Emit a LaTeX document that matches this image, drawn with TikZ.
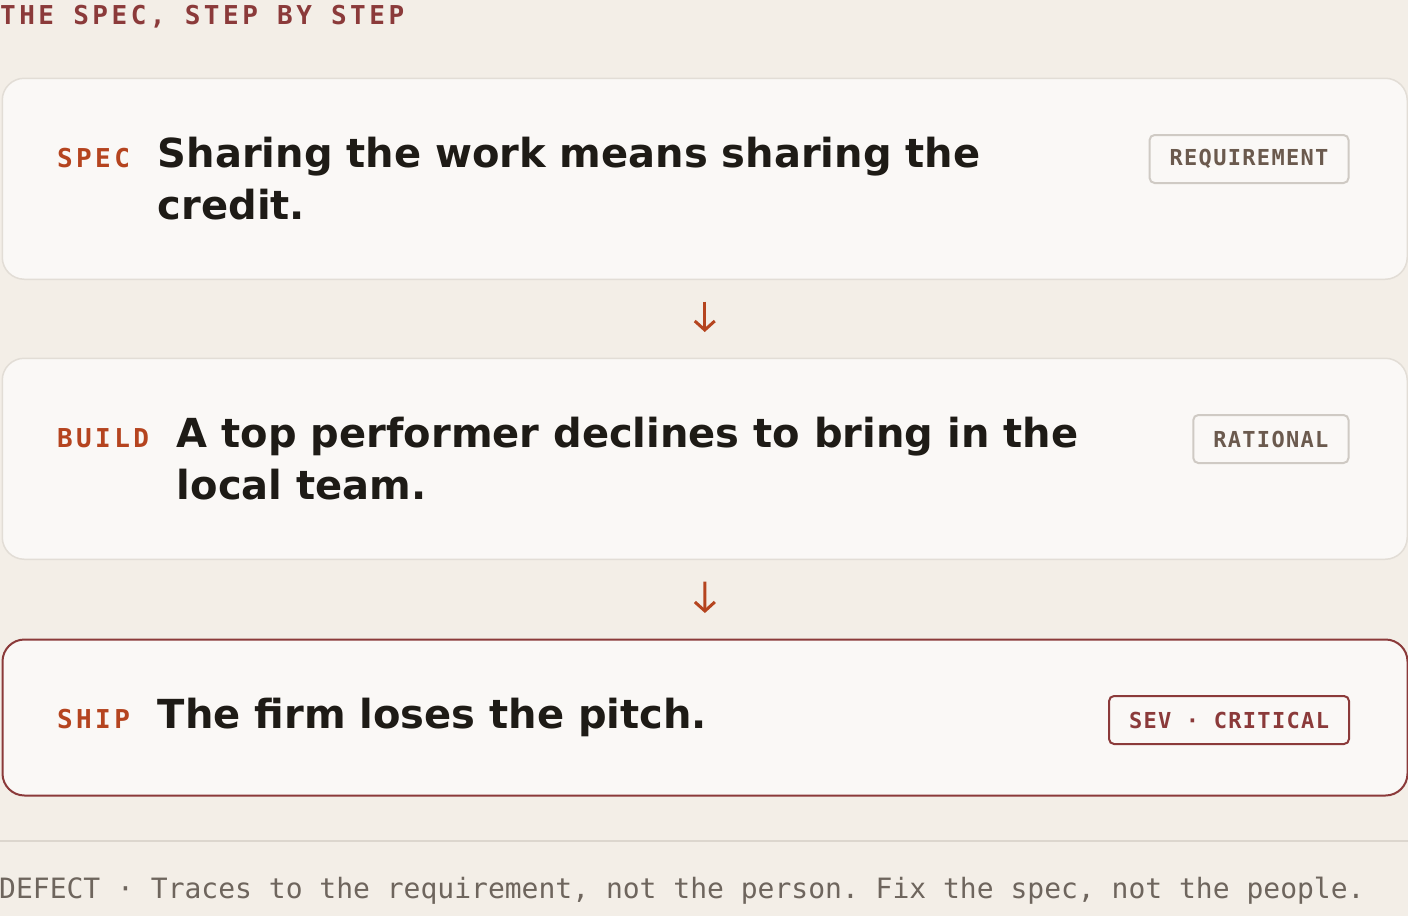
\documentclass[tikz,border=0pt]{standalone}
\usepackage{fontspec}
\setmainfont{DejaVu Sans}
\setmonofont{DejaVu Sans Mono}
\newfontfamily\titlefont[LetterSpace=13.5]{DejaVu Sans Mono}
\newfontfamily\labelfont[LetterSpace=13]{DejaVu Sans Mono}
\newfontfamily\tagfont[LetterSpace=6]{DejaVu Sans Mono}
\usetikzlibrary{calc,positioning,arrows.meta}
\definecolor{paper}{HTML}{F3EEE7}
\definecolor{cardfill}{HTML}{FAF8F6}
\definecolor{cardline}{HTML}{E2DDD6}
\definecolor{rust}{HTML}{B5441F}
\definecolor{wine}{HTML}{8B3A3A}
\definecolor{ink}{HTML}{1E1B16}
\definecolor{tagtext}{HTML}{6B5A4E}
\definecolor{tagline}{HTML}{CFCAC4}
\definecolor{foottext}{HTML}{6E655D}
\definecolor{rulecol}{HTML}{DCD6CE}
\tikzstyle{cardbox}=[draw=cardline, line width=1.5pt, fill=cardfill, rounded corners=22pt, minimum width=1405pt, inner sep=0pt]
\tikzstyle{shipbox}=[cardbox, draw=wine, line width=2pt]
\tikzstyle{titletext}=[inner sep=0pt, text=wine, font=\titlefont\bfseries\fontsize{26}{30}\selectfont]
\tikzstyle{steplabel}=[inner sep=0pt, text=rust, font=\labelfont\bfseries\fontsize{26}{30}\selectfont]
\tikzstyle{headtext}=[inner sep=0pt, text=ink, font=\bfseries\fontsize{40}{52}\selectfont]
\tikzstyle{tagbox}=[draw=tagline, line width=2pt, rounded corners=5pt, fill=cardfill, text=tagtext, minimum height=48pt, inner xsep=20pt, inner ysep=0pt, font=\tagfont\bfseries\fontsize{22}{26}\selectfont]
\tikzstyle{sevbox}=[tagbox, draw=wine, text=wine]
\tikzstyle{steparrow}=[draw=rust, line width=3pt, -{Straight Barb[length=9pt,width=20pt,line width=3pt]}]
\tikzstyle{foottext}=[inner sep=0pt, text=foottext, font=\ttfamily\fontsize{28}{32}\selectfont]
\newcommand{\stepcard}[8][cardbox]{% [card style]{name}{top}{height}{label}{heading}{tag style}{tag}
	\node[#1, minimum height=#4, anchor=north west] (#2) at (1.5,#3) {};
	\node[steplabel, anchor=base west] (#2lbl) at ($(#2.north west)+(55.5,89.5)$) {#5};
	\node[headtext, anchor=base west] (#2txt) at ($(#2lbl.base east)+(27.5,0)$) {\begin{tabular}[t]{@{}l@{}}#6\end{tabular}};
	\node[#7, anchor=east] (#2tag) at ($(#2.north east)+(-58.5,81.5)$) {#8};
}

\begin{document}
\begin{tikzpicture}[x=1pt, y=-1pt]
	\fill[paper] (0,0) rectangle (1408,916);
	\useasboundingbox (0,0) rectangle (1408,916);
	\node[titletext, anchor=base west] (title) at (0,24) {THE SPEC, STEP BY STEP};
	% the three steps
	\stepcard{spec}{77.5}{201pt}{SPEC}{Sharing the work means sharing the\\credit.}{tagbox}{REQUIREMENT}
	\stepcard{build}{357.5}{201pt}{BUILD}{A top performer declines to bring in the\\local team.}{tagbox}{RATIONAL}
	\stepcard[shipbox]{ship}{638.5}{156pt}{SHIP}{The firm loses the pitch.}{sevbox}{SEV · CRITICAL}
	\draw[steparrow, shorten <=21.5pt, shorten >=25.5pt] (spec.south) -- (build.north);
	\draw[steparrow, shorten <=21.5pt, shorten >=25.5pt] (build.south) -- (ship.north);
	% footer
	\coordinate (ruleL) at (0,841);
	\coordinate (ruleR) at (1408,841);
	\draw[rulecol, line width=2pt] (ruleL) -- (ruleR);
	\node[foottext, anchor=base west] (defect) at (-1,898) {DEFECT · Traces to the requirement, not the person. Fix the spec, not the people.};
\end{tikzpicture}
\end{document}
